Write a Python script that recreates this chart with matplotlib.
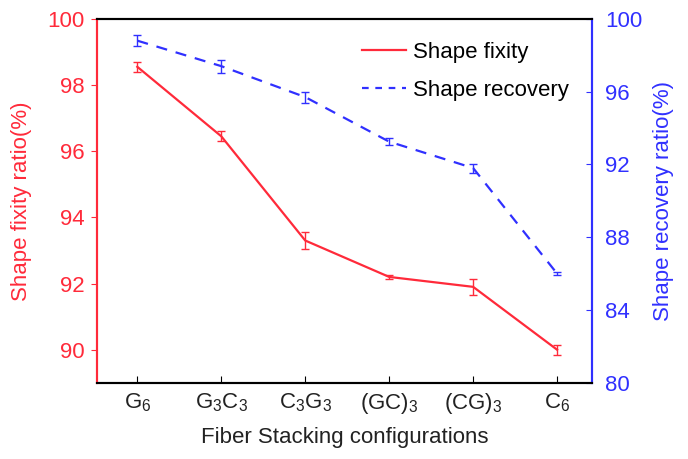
import matplotlib
matplotlib.use("Agg")
import matplotlib.pyplot as plt
from matplotlib.lines import Line2D

plt.rcParams["font.family"] = ["Liberation Sans", "DejaVu Sans"]
plt.rcParams["mathtext.default"] = "regular"

# data
configs = ["G$_6$", "G$_3$C$_3$", "C$_3$G$_3$", "(GC)$_3$", "(CG)$_3$", "C$_6$"]
fixity = [98.55, 96.45, 93.3, 92.2, 91.9, 90.0]
fixity_err = [0.15, 0.15, 0.25, 0.07, 0.25, 0.15]
recovery = [98.8, 97.4, 95.7, 93.25, 91.8, 86.0]
recovery_err = [0.3, 0.35, 0.3, 0.2, 0.25, 0.1]

red = "#ff2a3a"
blue = "#3030ff"
dash = (0, (5, 4))


def main():
    fig = plt.figure(figsize=(6.88, 4.59), dpi=100)
    ax = fig.add_axes([0.141, 0.166, 0.720, 0.793])
    ax2 = ax.twinx()

    x = range(len(configs))

    ax.errorbar(x, fixity, yerr=fixity_err, color=red, lw=1.6,
                capsize=3, elinewidth=1, capthick=1)
    ax2.errorbar(x, recovery, yerr=recovery_err, color=blue, lw=1.6,
                 ls=dash, capsize=3, elinewidth=1, capthick=1)

    ax.set_xlim(-0.48, 5.42)
    ax.set_ylim(89, 100)
    ax2.set_ylim(80, 100)
    ax.set_xticks(list(x))
    ax.set_xticklabels(configs)
    ax.set_yticks([90, 92, 94, 96, 98, 100])
    ax2.set_yticks([80, 84, 88, 92, 96, 100])

    # axis colours
    for a in (ax, ax2):
        a.spines["left"].set_color(red)
        a.spines["right"].set_color(blue)
        for sp in ["left", "right", "top", "bottom"]:
            a.spines[sp].set_linewidth(1.5)

    ax.tick_params(axis="y", colors=red, labelsize=16, direction="out",
                   length=4, pad=5)
    ax2.tick_params(axis="y", colors=blue, labelsize=16, direction="in",
                    length=4, pad=9)
    ax.tick_params(axis="x", labelsize=16, direction="in", length=5,
                   color="black", labelcolor="#222222", pad=6)

    ax.set_ylabel("Shape fixity ratio(%)", color=red, fontsize=16, labelpad=11)
    ax2.set_ylabel("Shape recovery ratio(%)", color=blue, fontsize=16, labelpad=8)
    ax.set_xlabel("Fiber Stacking configurations", fontsize=16,
                  color="#222222", labelpad=8)

    handles = [Line2D([], [], color=red, lw=1.6),
               Line2D([], [], color=blue, lw=1.6, ls=(0, (3, 3)))]
    ax2.legend(handles, ["Shape fixity", "Shape recovery"], loc="upper left",
               bbox_to_anchor=(0.535, 0.936), frameon=False, fontsize=16,
               handlelength=2.0, handletextpad=0.3, labelspacing=0.75,
               borderpad=0, borderaxespad=0)

    fig.savefig("out.png", dpi=100)


if __name__ == "__main__":
    main()
